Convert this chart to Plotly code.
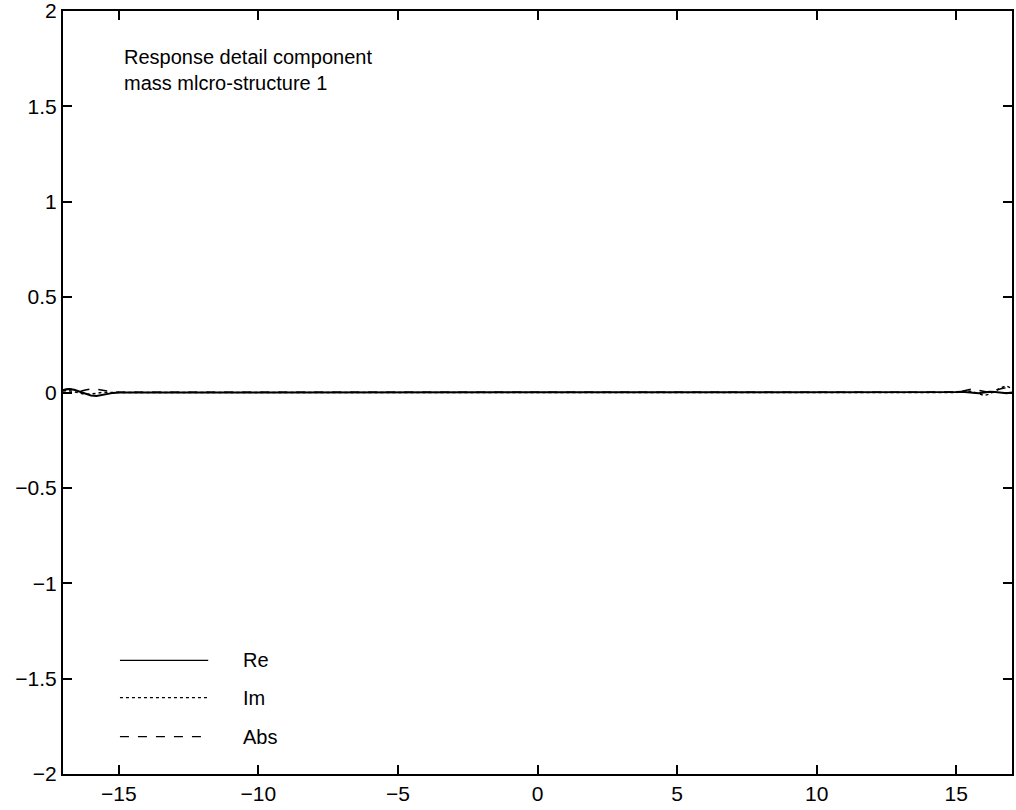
import plotly.graph_objects as go

# sample positions along the axis
x_vals = [-17.0, -16.8, -16.6, -16.4, -16.2, -16.0, -15.8, -15.6, -15.4, -15.2, -15.0,
          -14.5, -14.0, -13.0, -12.0, -10.0, -8.0, -6.0, -4.0, -2.0, 0.0, 2.0, 4.0,
          6.0, 8.0, 10.0, 12.0, 13.0, 14.0, 14.5, 15.0, 15.2, 15.4, 15.6, 15.8, 16.0,
          16.2, 16.4, 16.6, 16.8, 17.0]

re_vals = [0.012, 0.018, 0.014, 0.004, -0.008, -0.016, -0.018, -0.012, -0.006, -0.002, 0.0,
           0.001, 0.0, 0.0, 0.0, 0.0, 0.0, 0.0, 0.0, 0.0, 0.0, 0.0, 0.0,
           0.0, 0.0, 0.0, 0.0, 0.0, 0.0, 0.001, 0.002, 0.004, 0.002, -0.002, -0.004, 0.0,
           0.004, 0.003, -0.002, -0.004, 0.0]

im_vals = [0.008, 0.010, 0.004, -0.004, -0.010, -0.008, -0.003, 0.0, 0.0, 0.0, 0.0,
           0.0, 0.0, 0.0, 0.0, 0.0, 0.0, 0.0, 0.0, 0.0, 0.0, 0.0, 0.0,
           0.0, 0.0, 0.0, 0.0, 0.0, 0.0, 0.0, 0.0, 0.004, 0.008, 0.004, -0.008, -0.016,
           -0.008, 0.010, 0.025, 0.035, 0.020]

abs_vals = [0.015, 0.020, 0.015, 0.006, 0.013, 0.018, 0.018, 0.012, 0.006, 0.002, 0.001,
            0.001, 0.0, 0.0, 0.0, 0.0, 0.0, 0.0, 0.0, 0.0, 0.0, 0.0, 0.0,
            0.0, 0.0, 0.0, 0.0, 0.0, 0.0, 0.001, 0.002, 0.006, 0.015, 0.020, 0.012, 0.004,
            0.0, 0.010, 0.020, 0.025, 0.020]

series_names = ["Re", "Im", "Abs"]
x_ticks = [-15, -10, -5, 0, 5, 10, 15]
y_ticks = [-2, -1.5, -1, -0.5, 0, 0.5, 1, 1.5, 2]
y_tick_text = ["−2", "−1.5", "−1", "−0.5", "0", "0.5", "1", "1.5", "2"]
annotation_text = ["Response detail component", "mass mlcro-structure 1"]

FONT = "Liberation Sans, Arial, Helvetica, sans-serif"
dashes = ["solid", "dot", "dash"]
widths = [2, 1.5, 1.5]
series = [re_vals, im_vals, abs_vals]

fig = go.Figure()
for name, ys, d, w in zip(series_names, series, dashes, widths):
    fig.add_trace(go.Scatter(x=x_vals, y=ys, mode="lines", name=name,
                             line=dict(color="black", width=w, dash=d),
                             showlegend=False))

# hand-drawn legend (paper coordinates)
leg_y = [0.149, 0.100, 0.049]
for name, d, ly in zip(series_names, dashes, leg_y):
    fig.add_shape(type="line", xref="paper", yref="paper", x0=0.060, x1=0.153,
                  y0=ly, y1=ly, line=dict(color="black", width=1.2, dash=d))
    fig.add_annotation(xref="paper", yref="paper", x=0.188, y=ly, text=name,
                       showarrow=False, xanchor="left", yanchor="middle",
                       font=dict(family=FONT, size=20, color="black"))

fig.add_annotation(xref="paper", yref="paper", x=0.062, y=0.957,
                   text="<br>".join(annotation_text), showarrow=False,
                   xanchor="left", yanchor="top", align="left",
                   font=dict(family=FONT, size=20, color="black"))

axis_common = dict(showline=True, linecolor="black", linewidth=2, mirror="ticks",
                   ticks="inside", ticklen=9, tickwidth=1.5, tickcolor="black",
                   showgrid=False, zeroline=False, ticklabeloverflow="allow",
                   automargin=False,
                   tickfont=dict(family=FONT, size=21, color="black"))

fig.update_xaxes(range=[-17, 17], tickvals=x_ticks, **axis_common)
fig.update_yaxes(range=[-2, 2], tickvals=y_ticks, ticktext=y_tick_text, **axis_common)

fig.update_layout(width=1016, height=810, plot_bgcolor="white", paper_bgcolor="white",
                  margin=dict(l=63, r=4, t=11, b=36), showlegend=False)

fig.write_html("out.html")
